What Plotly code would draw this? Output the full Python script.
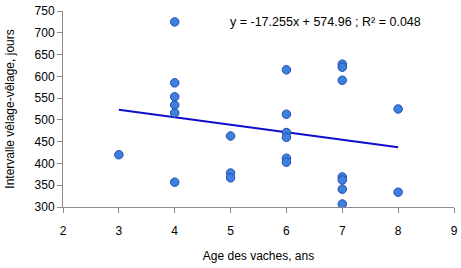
import plotly.graph_objects as go

age = [3,
       4, 4, 4, 4, 4, 4,
       5, 5, 5,
       6, 6, 6, 6, 6, 6,
       7, 7, 7, 7, 7, 7, 7,
       8, 8]
intervalle = [420,
              725, 585, 553, 534, 516, 357,
              463, 378, 367,
              615, 513, 471, 460, 412, 403,
              628, 621, 591, 369, 362, 341, 307,
              525, 334]
slope = -17.255
intercept = 574.96
trend_x = [min(age), max(age)]
trend_y = [slope * v + intercept for v in trend_x]
equation = "y = -17.255x + 574.96 ; R² = 0.048"

FONT = "Liberation Sans, Arial"

fig = go.Figure()
fig.add_trace(go.Scatter(x=trend_x, y=trend_y, mode="lines",
                         line=dict(color="#0E0ECC", width=2), showlegend=False))
fig.add_trace(go.Scatter(x=age, y=intervalle, mode="markers",
                         marker=dict(size=8.5, color="#3F7FE0",
                                     line=dict(color="#1F4FB0", width=1)),
                         showlegend=False))
fig.add_annotation(x=0.423, y=0.945, xref="paper", yref="paper", text=equation,
                   showarrow=False, xanchor="left", yanchor="middle",
                   font=dict(size=12.5, color="#000000", family=FONT))

axis_common = dict(showgrid=False, zeroline=False, showline=True, linecolor="#8C8C8C",
                   linewidth=1, ticks="outside", ticklen=5, tickcolor="#8C8C8C",
                   automargin=False,
                   tickfont=dict(size=12, color="#000000", family=FONT))
fig.update_xaxes(range=[2, 9], dtick=1, tick0=2, ticklabelstandoff=8,
                 title=dict(text="Age des vaches, ans", standoff=14,
                            font=dict(size=12, color="#000000", family=FONT)),
                 **axis_common)
fig.update_yaxes(range=[300, 750], dtick=50, tick0=300,
                 title=dict(text="Intervalle vêlage-vêlage, jours", standoff=17,
                            font=dict(size=12, color="#000000", family=FONT)),
                 **axis_common)
fig.update_layout(width=461, height=268, margin=dict(l=63, r=7, t=11, b=61),
                  paper_bgcolor="white", plot_bgcolor="white")
fig.write_html("out.html")
